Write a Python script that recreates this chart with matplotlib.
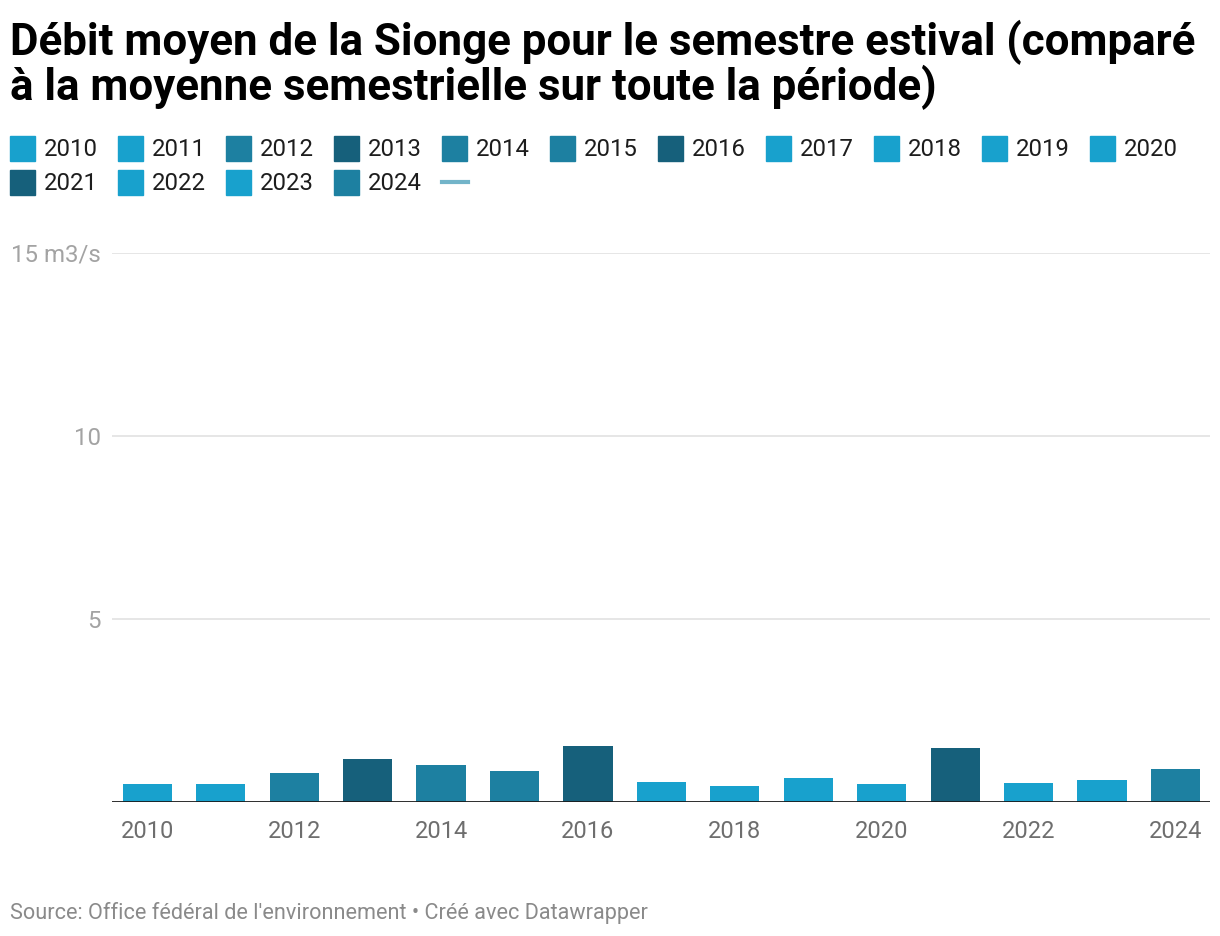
import matplotlib
matplotlib.use("Agg")
import matplotlib.pyplot as plt
from matplotlib.patches import Rectangle
from matplotlib.lines import Line2D

plt.rcParams['font.family'] = ['Roboto', 'DejaVu Sans']

years = list(range(2010, 2025))
debit = [0.49, 0.49, 0.79, 1.17, 1.01, 0.85, 1.53, 0.55, 0.44, 0.66,
         0.49, 1.48, 0.52, 0.60, 0.90]
# colour class of each year (as in the original)
classe = ['bas', 'bas', 'moyen', 'haut', 'moyen', 'moyen', 'haut', 'bas', 'bas', 'bas',
          'bas', 'haut', 'bas', 'bas', 'moyen']
couleurs = {'bas': '#18a1cd', 'moyen': '#1d80a1', 'haut': '#16607b'}
couleur_moyenne = '#72b4c9'

W, H = 1220, 936
fig = plt.figure(figsize=(W / 100, H / 100), dpi=100)
ax = fig.add_axes([112 / W, (H - 802) / H, (1210 - 112) / W, (802 - 253) / H])

cols = [couleurs[c] for c in classe]
ax.bar(years, debit, width=0.67, color=cols, zorder=2)

ax.set_xlim(2009.52, 2024.47)
ax.set_ylim(0, 15)
ax.set_yticks([5, 10, 15])
ax.set_yticklabels(['5', '10', '15 m3/s'])
ax.set_xticks(years[::2])
ax.set_xticklabels([str(y) for y in years[::2]])
ax.grid(axis='y', color='#e2e2e2', lw=1.2, zorder=0)
ax.axhline(0, color='#1a1a1a', lw=2, zorder=3)
for s in ax.spines.values():
    s.set_visible(False)
ax.tick_params(axis='y', length=0, pad=8, labelsize=17.3, labelcolor='#a3a3a3')
ax.tick_params(axis='x', length=0, pad=13, labelsize=17, labelcolor='#6e6e6e')

# title
fig.text(10 / W, 1 - 55 / H, "Débit moyen de la Sionge pour le semestre estival (comparé",
         fontsize=31.6, fontweight='bold', color='#000000', va='baseline')
fig.text(10 / W, 1 - 100 / H, "à la moyenne semestrielle sur toute la période)",
         fontsize=31.6, fontweight='bold', color='#000000', va='baseline')

# legend, flow layout
pas = 108
for i, (y, c) in enumerate(zip(years, cols)):
    row, col = divmod(i, 11)
    x0 = 10 + col * pas
    yc = 148 + row * 34
    fig.add_artist(Rectangle((x0 / W, 1 - (yc + 12.5) / H), 25 / W, 25 / H,
                             transform=fig.transFigure, color=c))
    fig.text((x0 + 34) / W, 1 - (yc + 1.5) / H, str(y), fontsize=17.2, color='#1d1d1d', va='center')
x0 = 10 + 4 * pas
fig.add_artist(Line2D([x0 / W, (x0 + 26) / W], [1 - 182 / H, 1 - 182 / H],
                      transform=fig.transFigure, color=couleur_moyenne, lw=3))

fig.text(10 / W, 1 - 913 / H, "Source: Office fédéral de l'environnement • Créé avec Datawrapper",
         fontsize=15.6, color='#8a8a8a', va='center')

fig.savefig('out.png', dpi=100)
